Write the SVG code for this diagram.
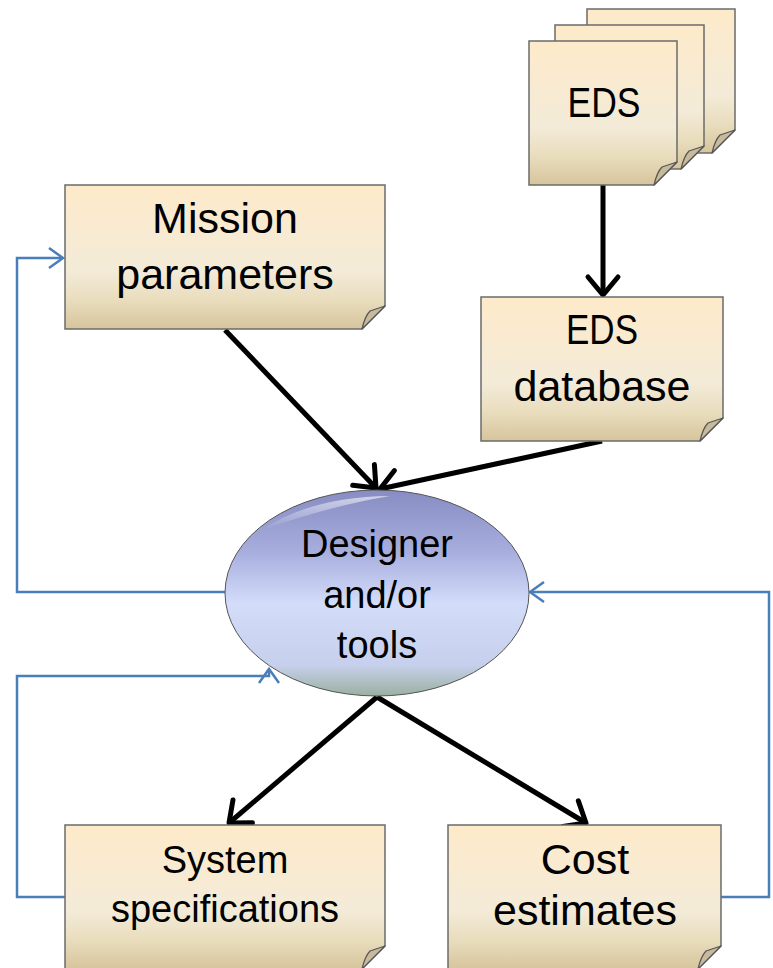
<svg xmlns="http://www.w3.org/2000/svg" width="773" height="968" viewBox="0 0 773 968">
<style>
.note{fill:url(#noteGrad);stroke:#6b6b6b;stroke-width:1.5}
.fold{fill:#c8bb9d;stroke:#555;stroke-width:1.2;stroke-linejoin:round}
.t{font-family:"Liberation Sans",Arial,sans-serif;fill:#000;text-anchor:middle}
.big{font-size:43px}
.small{font-size:38px}
.arr{fill:none;stroke:#000;stroke-width:5;marker-end:url(#ah)}
.fb{fill:none;stroke:#4a7ebb;stroke-width:2.5;marker-end:url(#bh)}
</style>
<defs>
<linearGradient id="noteGrad" x1="0" y1="0" x2="0" y2="1">
<stop offset="0" stop-color="#feeaca"/>
<stop offset="0.6" stop-color="#f3ebd8"/>
<stop offset="0.8" stop-color="#e9ddbd"/>
<stop offset="1" stop-color="#d6c59c"/>
</linearGradient>
<linearGradient id="ellGrad" x1="0" y1="0" x2="0" y2="1">
<stop offset="0" stop-color="#878cc2"/>
<stop offset="0.3" stop-color="#a7aede"/>
<stop offset="0.55" stop-color="#d3dcf9"/>
<stop offset="0.85" stop-color="#c6d0ec"/>
<stop offset="1" stop-color="#9bb0a0"/>
</linearGradient>
<linearGradient id="hiGrad" x1="0" y1="0" x2="0" y2="1">
<stop offset="0" stop-color="#fff" stop-opacity="0.6"/>
<stop offset="1" stop-color="#fff" stop-opacity="0"/>
</linearGradient>
<marker id="ah" markerUnits="userSpaceOnUse" viewBox="-24 -18 28 36" refX="0" refY="0" markerWidth="28" markerHeight="36" orient="auto" overflow="visible">
<path d="M-18,-15 L0,0 L-18,15" fill="none" stroke="#000" stroke-width="5" stroke-linecap="round" stroke-linejoin="round"/>
</marker>
<marker id="bh" markerUnits="userSpaceOnUse" viewBox="-18 -14 20 28" refX="0" refY="0" markerWidth="20" markerHeight="28" orient="auto" overflow="visible">
<path d="M-14,-10 L0,0 L-14,10" fill="none" stroke="#4a7ebb" stroke-width="2.5" stroke-linejoin="miter"/>
</marker>
</defs>
<rect width="773" height="968" fill="#fff"/>

<g id="connectors">
<line class="arr" x1="603" y1="185" x2="603" y2="295"/>
<line class="arr" x1="225" y1="330" x2="376" y2="488"/>
<line class="arr" x1="602" y1="441" x2="380" y2="489"/>
<line class="arr" x1="377" y1="697" x2="229" y2="823"/>
<line class="arr" x1="377" y1="697" x2="586" y2="823"/>
<path class="fb" d="M225,592 H17 V258 H63"/>
<path class="fb" d="M65,897 H17 V676 H269 V669"/>
<path class="fb" d="M721,897 H769 V592 H530"/>
</g>

<g id="eds">
<path class="note" d="M587,9 H735 V130 L712,153 H587 Z"/>
<path class="fold" d="M735,130 L720,135 Q715,140 712,153 Z"/>
<path class="note" d="M555,25 H704 V146 L681,169 H555 Z"/>
<path class="fold" d="M704,146 L689,151 Q684,156 681,169 Z"/>
<path class="note" d="M529,41 H677 V162 L654,185 H529 Z"/>
<path class="fold" d="M677,162 L662,167 Q657,172 654,185 Z"/>
<text class="t big" x="604" y="117" textLength="73" lengthAdjust="spacingAndGlyphs">EDS</text>
</g>

<g id="mission">
<path class="note" d="M65,185 H385 V306 L362,329 H65 Z"/>
<path class="fold" d="M385,306 L370,311 Q365,316 362,329 Z"/>
<text class="t big" x="225" y="233">Mission</text>
<text class="t big" x="225" y="289">parameters</text>
</g>

<g id="edsdb">
<path class="note" d="M481,297 H723 V418 L700,441 H481 Z"/>
<path class="fold" d="M723,418 L708,423 Q703,428 700,441 Z"/>
<text class="t big" x="602" y="344" textLength="72" lengthAdjust="spacingAndGlyphs">EDS</text>
<text class="t big" x="602" y="401">database</text>
</g>

<g id="designer">
<ellipse cx="377" cy="593" rx="152" ry="103" fill="url(#ellGrad)" stroke="#555" stroke-width="1"/>
<path d="M262,530 Q310,497 390,496 Q330,506 262,530 Z" fill="url(#hiGrad)"/>
<text class="t small" x="377" y="557">Designer</text>
<text class="t small" x="377" y="608">and/or</text>
<text class="t small" x="377" y="658">tools</text>
</g>

<g id="system">
<path class="note" d="M65,825 H385 V946 L362,969 H65 Z"/>
<path class="fold" d="M385,946 L370,951 Q365,956 362,969 Z"/>
<text class="t small" x="225" y="873">System</text>
<text class="t small" x="225" y="922">specifications</text>
</g>

<g id="cost">
<path class="note" d="M448,825 H721 V946 L698,969 H448 Z"/>
<path class="fold" d="M721,946 L706,951 Q701,956 698,969 Z"/>
<text class="t big" x="585" y="874">Cost</text>
<text class="t big" x="585" y="925">estimates</text>
</g>
</svg>
